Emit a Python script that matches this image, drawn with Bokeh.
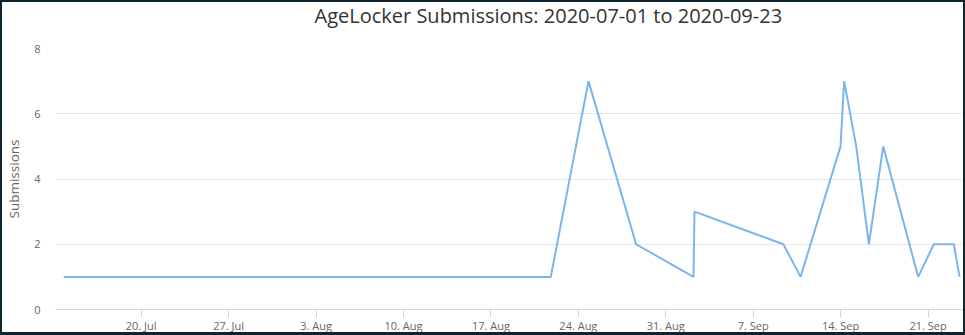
import pandas as pd
from bokeh.plotting import figure
from bokeh.models import FixedTicker, Range1d, ColumnDataSource, InlineStyleSheet, Title
from bokeh.embed import file_html
from bokeh.resources import INLINE

# --- data ---
times = [
    "2020-07-13 19:00", "2020-08-21 19:00", "2020-08-24 19:30", "2020-08-28 15:00",
    "2020-09-02 05:15", "2020-09-02 07:10", "2020-09-09 10:00", "2020-09-10 19:00",
    "2020-09-13 23:45", "2020-09-14 06:45", "2020-09-15 06:00", "2020-09-16 06:15",
    "2020-09-17 09:50", "2020-09-20 05:00", "2020-09-21 11:00", "2020-09-23 01:30",
    "2020-09-23 12:30",
]
submissions = [1, 1, 7, 2, 1, 3, 2, 1, 5, 7, 5, 2, 5, 1, 2, 2, 1]

x_tick_dates = ["2020-07-20", "2020-07-27", "2020-08-03", "2020-08-10", "2020-08-17",
                "2020-08-24", "2020-08-31", "2020-09-07", "2020-09-14", "2020-09-21"]
x_tick_labels = ["20. Jul", "27. Jul", "3. Aug", "10. Aug", "17. Aug",
                 "24. Aug", "31. Aug", "7. Sep", "14. Sep", "21. Sep"]
y_ticks = [0, 2, 4, 6, 8]

title_text = "AgeLocker Submissions: 2020-07-01 to 2020-09-23"
x_start, x_end = "2020-07-13 03:20", "2020-09-23 22:00"


def ms(s):
    return float(pd.Timestamp(s).value // 10**6)


src = ColumnDataSource(dict(t=[ms(t) for t in times], v=submissions))
tick_vals = [ms(d) for d in x_tick_dates]

FONT = "Open Sans"

p = figure(width=965, height=335, output_backend="svg", toolbar_location=None,
           title=None,
           x_range=Range1d(ms(x_start), ms(x_end)), y_range=Range1d(0, 8),
           min_border_left=55, min_border_right=1, min_border_top=48, min_border_bottom=26)

# dark frame round the whole chart, drawn over the canvas edge
p.stylesheets = [InlineStyleSheet(css="""
:host { position: relative; }
:host::after {
  content: "";
  position: absolute;
  left: 0; top: 0; right: 0; bottom: 0;
  box-sizing: border-box;
  border-style: solid;
  border-color: #0f2331;
  border-width: 2px 2px 3px 2px;
  pointer-events: none;
  z-index: 1000;
}
""")]

p.line("t", "v", source=src, line_color="#7cb5ec", line_width=2)

# spacer between the plot frame and the title, so the title sits at the very top
p.add_layout(Title(text=" ", text_font=FONT, text_font_size="1px", standoff=13.5), "above")
p.add_layout(Title(text=title_text, align="left", offset=259, vertical_align="top",
                   standoff=2, text_font=FONT, text_font_size="20px",
                   text_font_style="normal", text_color="#333333"), "above")

xa = p.xaxis[0]
xa.ticker = FixedTicker(ticks=tick_vals)
xa.major_label_overrides = {v: l for v, l in zip(tick_vals, x_tick_labels)}
xa.axis_line_color = "#ccd6eb"
xa.major_tick_line_color = "#ccd6eb"
xa.major_tick_out = 8
xa.major_tick_in = 0
xa.minor_tick_line_color = None
xa.minor_tick_out = 0
xa.major_label_text_font = FONT
xa.major_label_text_font_size = "11px"
xa.major_label_text_color = "#666666"
xa.major_label_standoff = 0

ya = p.yaxis[0]
ya.ticker = FixedTicker(ticks=y_ticks)
ya.axis_line_color = None
ya.major_tick_line_color = None
ya.major_tick_out = 0
ya.major_tick_in = 0
ya.minor_tick_line_color = None
ya.minor_tick_out = 0
ya.major_label_text_font = FONT
ya.major_label_text_font_size = "11px"
ya.major_label_text_color = "#666666"
ya.major_label_standoff = 15
ya.axis_label = "Submissions"
ya.axis_label_text_font = FONT
ya.axis_label_text_font_size = "13.5px"
ya.axis_label_text_font_style = "normal"
ya.axis_label_text_color = "#666666"
ya.axis_label_standoff = 8

p.xgrid.grid_line_color = None
p.ygrid.grid_line_color = "#e6e6e6"
p.ygrid.ticker = FixedTicker(ticks=y_ticks)
p.outline_line_color = None
p.background_fill_color = "white"
p.border_fill_color = "white"

open("out.html", "w").write(file_html(p, INLINE))
